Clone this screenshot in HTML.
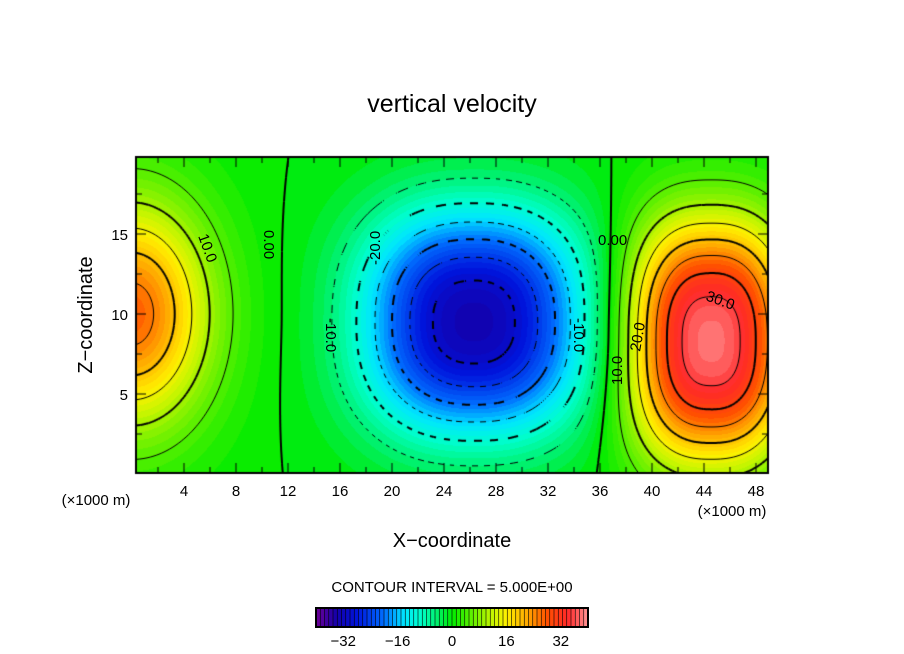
<!DOCTYPE html>
<html><head><meta charset="utf-8"><style>
body{margin:0;background:#fff;width:904px;height:654px;overflow:hidden;font-family:"Liberation Sans",sans-serif}
#wrap{position:relative;width:904px;height:654px}
canvas{position:absolute;left:0;top:0}
</style></head><body>
<div id="wrap">
<canvas id="c" width="904" height="654"></canvas>
</div>
<script>
// Field model: blobs (km, amplitude m/s)
const blobX=[0,26.3,44.5];
const blobZ=[10,9.5,8.3];
const blobAmp=[27,-33,38];
const blobSX=[6,8.4,6.2];
const blobSZ=[7,6.9,7.6];
const blobP=[2,2.4,2.5];
const xTicks=[4,8,12,16,20,24,28,32,36,40,44,48];
const zTicks=[5,10,15];
const cbTicks=[-32,-16,0,16,32];
const levels=[-30,-25,-20,-15,-10,-5,0,5,10,15,20,25,30,35];
const X0=136,X1=768,Y0=157,Y1=473;
const px=x=>132+13*x, pz=z=>474-16*z;
const ix=p=>(p-132)/13, iz=p=>(474-p)/16;
function f(x,z){let s=0;for(let i=0;i<blobX.length;i++){const u=Math.pow(Math.abs((x-blobX[i])/blobSX[i]),blobP[i])+Math.pow(Math.abs((z-blobZ[i])/blobSZ[i]),blobP[i]);s+=blobAmp[i]*Math.exp(-u);}return s;}
const stops=[[-40,[110,0,150]],[-34,[20,0,170]],[-28,[0,20,220]],[-20,[0,110,255]],[-14,[0,230,255]],[-9,[0,255,200]],[-4,[0,240,100]],[0,[0,235,0]],[6,[100,240,0]],[12,[200,245,0]],[16,[255,240,0]],[22,[255,170,0]],[28,[255,80,0]],[34,[255,40,40]],[40,[255,150,150]]];
function col(v){v=Math.floor(v/1.25)*1.25+0.6;if(v<=stops[0][0])return stops[0][1];for(let i=1;i<stops.length;i++){if(v<=stops[i][0]){const a=stops[i-1],b=stops[i],t=(v-a[0])/(b[0]-a[0]);return a[1].map((c,k)=>Math.round(c+(b[1][k]-c)*t));}}return stops[stops.length-1][1];}
const c=document.getElementById('c'),g=c.getContext('2d');
g.fillStyle='#fff';g.fillRect(0,0,904,654);
const img=g.createImageData(X1-X0,Y1-Y0);
for(let j=0;j<Y1-Y0;j++)for(let i=0;i<X1-X0;i++){const v=f(ix(X0+i+.5),iz(Y0+j+.5));const k=col(v);const o=(j*(X1-X0)+i)*4;img.data[o]=k[0];img.data[o+1]=k[1];img.data[o+2]=k[2];img.data[o+3]=255;}
g.putImageData(img,X0,Y0);
const S=2,nx=Math.ceil((X1-X0)/S),ny=Math.ceil((Y1-Y0)/S);
const F=[];for(let j=0;j<=ny;j++){F[j]=[];for(let i=0;i<=nx;i++)F[j][i]=f(ix(X0+i*S),iz(Y0+j*S));}
g.save();g.beginPath();g.rect(X0,Y0,X1-X0,Y1-Y0);g.clip();
levels.forEach(L=>{const thick=L%10===0;g.lineWidth=thick?2:1;g.strokeStyle='#000';
 for(let j=0;j<ny;j++)for(let i=0;i<nx;i++){
  const a=F[j][i],b=F[j][i+1],cc=F[j+1][i+1],d=F[j+1][i];const pts=[];
  const e=(v1,v2,x1,y1,x2,y2)=>{if((v1-L)*(v2-L)<0){const t=(L-v1)/(v2-v1);pts.push([x1+(x2-x1)*t,y1+(y2-y1)*t]);}};
  const x=X0+i*S,y=Y0+j*S;
  e(a,b,x,y,x+S,y);e(b,cc,x+S,y,x+S,y+S);e(cc,d,x+S,y+S,x,y+S);e(d,a,x,y+S,x,y);
  if(pts.length>=2){if(L<0){const m=Math.floor((x+y)/(thick?8:6));if(m%2)continue;}
   g.beginPath();g.moveTo(pts[0][0],pts[0][1]);g.lineTo(pts[1][0],pts[1][1]);
   if(pts.length===4){g.moveTo(pts[2][0],pts[2][1]);g.lineTo(pts[3][0],pts[3][1]);}g.stroke();}
 }});
g.restore();
g.strokeStyle='#000';g.lineWidth=2;g.strokeRect(X0,Y0,X1-X0,Y1-Y0);g.lineWidth=1;
for(let x=2;x<=48;x+=2){const p=px(x),h=x%4===0?10:6;g.beginPath();g.moveTo(p,Y1);g.lineTo(p,Y1-h);g.moveTo(p,Y0);g.lineTo(p,Y0+h);g.stroke();}
for(let z=2.5;z<20;z+=2.5){const p=pz(z),h=z%5===0?10:6;g.beginPath();g.moveTo(X0,p);g.lineTo(X0+h,p);g.moveTo(X1,p);g.lineTo(X1-h,p);g.stroke();}
</script>
<svg width="904" height="654" style="position:absolute;left:0;top:0" font-family="Liberation Sans, sans-serif">
<text x="452" y="112" font-size="25" text-anchor="middle">vertical velocity</text>
<g font-size="15" text-anchor="middle" id="xt"></g>
<g font-size="15" text-anchor="end" id="zt"></g>
<text x="96" y="505" font-size="15" text-anchor="middle">(×1000 m)</text>
<text x="732" y="516" font-size="15" text-anchor="middle">(×1000 m)</text>
<text x="452" y="547" font-size="20" text-anchor="middle">X−coordinate</text>
<text transform="translate(92,315) rotate(-90)" font-size="20" text-anchor="middle">Z−coordinate</text>
<text x="452" y="592" font-size="15" text-anchor="middle">CONTOUR INTERVAL = 5.000E+00</text>
<g id="cb"></g>
<g font-size="15" text-anchor="middle" id="cbt"></g>
<g font-size="15">
<text transform="translate(198,236) rotate(70)">10.0</text>
<text transform="translate(264,230) rotate(90)">0.00</text>
<text transform="translate(326,318) rotate(90)">-10.0</text>
<text transform="translate(380,265) rotate(-90)">-20.0</text>
<text transform="translate(574,318) rotate(90)">-10.0</text>
<text x="598" y="245">0.00</text>
<text transform="translate(622,385) rotate(-90)">10.0</text>
<text transform="translate(640,352) rotate(-80)">20.0</text>
<text transform="translate(705,300) rotate(20)">30.0</text>
</g>
</svg>
<script>
const ns='http://www.w3.org/2000/svg';
const xt=document.getElementById('xt');
xTicks.forEach(v=>{const t=document.createElementNS(ns,'text');t.setAttribute('x',132+13*v);t.setAttribute('y',496);t.textContent=v;


xt.appendChild(t);});
const zt=document.getElementById('zt');
zTicks.forEach(v=>{const t=document.createElementNS(ns,'text');t.setAttribute('x',128);t.setAttribute('y',474-16*v+6);t.textContent=v;


zt.appendChild(t);});
const cb=document.getElementById('cb');const CB0=316,CB1=588,cbv=v=>CB0+(v+40)/80*(CB1-CB0);
for(let v=-40;v<40;v+=1.25){const r=document.createElementNS(ns,'rect');const k=col(v);r.setAttribute('x',cbv(v));r.setAttribute('y',608);r.setAttribute('width',(CB1-CB0)/64+0.3);r.setAttribute('height',19);r.setAttribute('fill','rgb('+k.join(',')+')');


cb.appendChild(r);
const l=document.createElementNS(ns,'line');l.setAttribute('x1',cbv(v));l.setAttribute('x2',cbv(v));l.setAttribute('y1',608);l.setAttribute('y2',627);l.setAttribute('stroke','#000');l.setAttribute('stroke-width','0.6');cb.appendChild(l);}
const fr=document.createElementNS(ns,'rect');fr.setAttribute('x',CB0);fr.setAttribute('y',608);fr.setAttribute('width',CB1-CB0);fr.setAttribute('height',19);fr.setAttribute('fill','none');fr.setAttribute('stroke','#000');fr.setAttribute('stroke-width','2');cb.appendChild(fr);
const cbt=document.getElementById('cbt');
cbTicks.forEach(v=>{const t=document.createElementNS(ns,'text');t.setAttribute('x',cbv(v));t.setAttribute('y',646);t.textContent=v<0?'−'+(-v):v;


cbt.appendChild(t);});
</script>
</body></html>
